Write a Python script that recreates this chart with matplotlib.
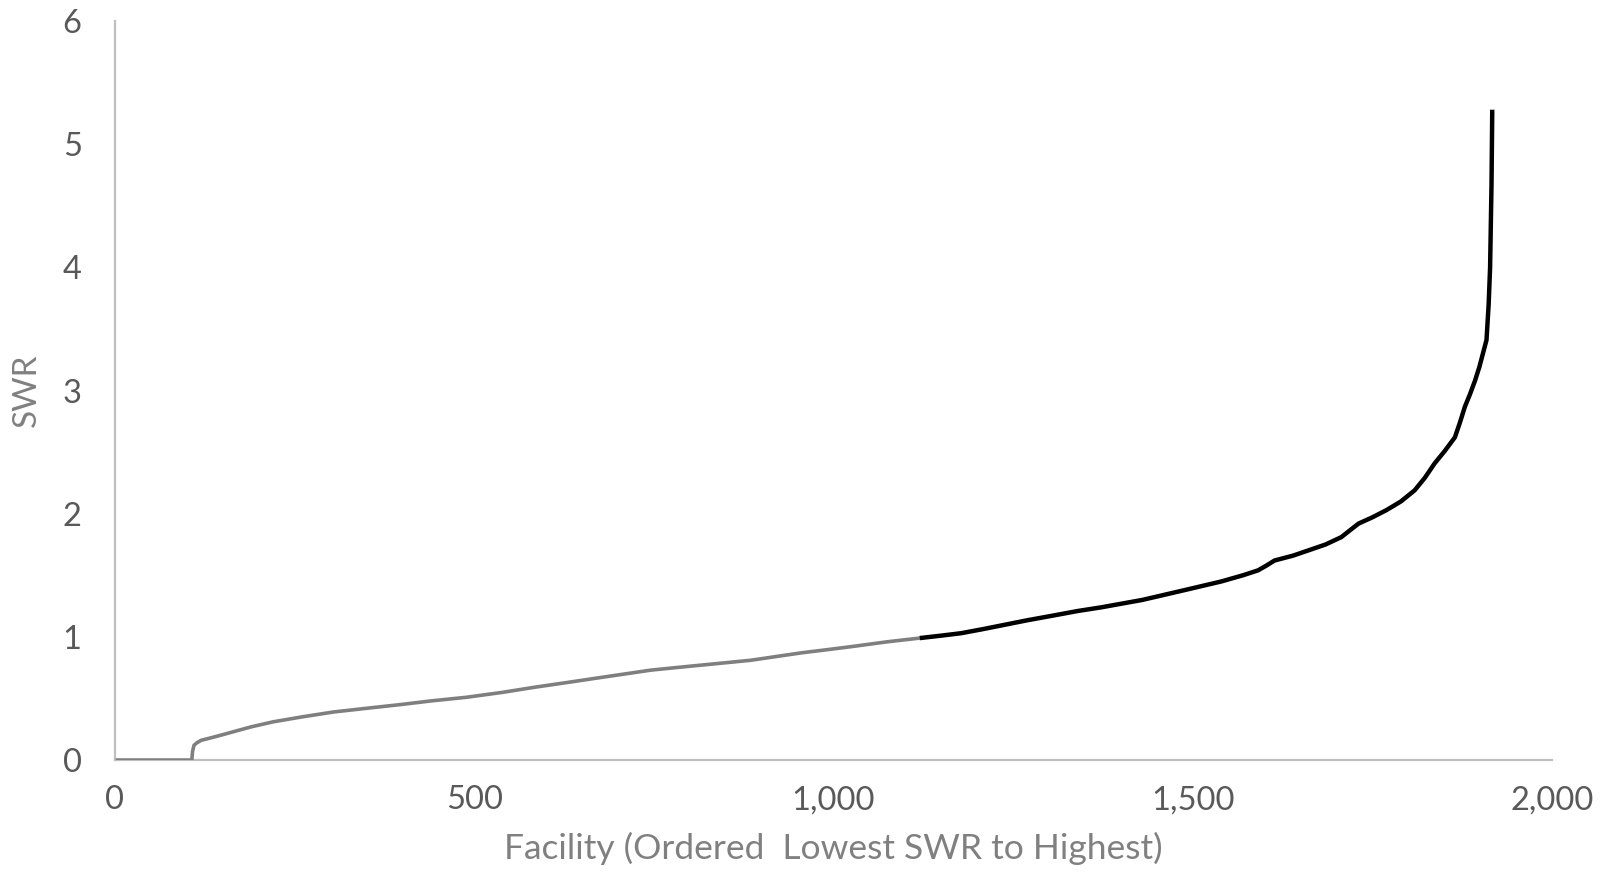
import matplotlib
matplotlib.use("Agg")
import matplotlib.pyplot as plt
from matplotlib.ticker import FuncFormatter

# facilities ranked by SWR; the lower part (SWR < 1) drawn in grey, the rest in black
low_rank = [1, 107, 108, 110, 114, 120, 140, 165, 190, 220, 260, 304, 350, 397,
            440, 490, 540, 583, 630, 676, 711, 746, 780, 815, 850, 885, 920, 955,
            990, 1024, 1075, 1120]
low_swr = [0, 0, 0.07, 0.12, 0.14, 0.16, 0.19, 0.23, 0.27, 0.31, 0.35, 0.39, 0.42, 0.45,
           0.48, 0.51, 0.55, 0.59, 0.63, 0.67, 0.70, 0.73, 0.75, 0.77, 0.79, 0.81, 0.84, 0.87,
           0.895, 0.92, 0.96, 0.99]

high_rank = [1120, 1150, 1178, 1210, 1240, 1270, 1303, 1340, 1373, 1430, 1489, 1540,
             1570, 1591, 1603, 1614, 1640, 1660, 1685, 1707, 1720, 1731, 1750, 1770,
             1790, 1809, 1823, 1837, 1851, 1865, 1872, 1879, 1886, 1893, 1899, 1904,
             1909, 1912, 1914, 1916, 1917]
high_swr = [0.99, 1.01, 1.03, 1.065, 1.10, 1.135, 1.17, 1.21, 1.24, 1.30, 1.38, 1.45,
            1.50, 1.54, 1.58, 1.62, 1.66, 1.70, 1.75, 1.81, 1.87, 1.92, 1.97, 2.03,
            2.10, 2.19, 2.29, 2.41, 2.51, 2.62, 2.74, 2.87, 2.97, 3.08, 3.19, 3.30,
            3.41, 3.70, 4.00, 4.68, 5.28]

x_ticks = [0, 500, 1000, 1500, 2000]
y_ticks = [0, 1, 2, 3, 4, 5, 6]

plt.rcParams["font.family"] = ["Lato", "DejaVu Sans"]

fig = plt.figure(figsize=(16.1, 8.73), dpi=100)
ax = fig.add_axes([0.0714, 0.1294, 0.8925, 0.8465])

ax.plot(low_rank, low_swr, color="#7f7f7f", linewidth=2.6,
        solid_capstyle="butt", solid_joinstyle="round", zorder=3)
ax.plot(high_rank, high_swr, color="#000000", linewidth=3.2,
        solid_capstyle="butt", solid_joinstyle="round", zorder=3)

ax.set_xlim(0, 2000)
ax.set_ylim(0, 6)
ax.set_xticks(x_ticks)
ax.set_yticks(y_ticks)
ax.xaxis.set_major_formatter(FuncFormatter(lambda v, _: f"{int(v):,}"))

for side in ("top", "right"):
    ax.spines[side].set_visible(False)
for side in ("left", "bottom"):
    ax.spines[side].set_color("#bfbfbf")
    ax.spines[side].set_linewidth(1.6)

ax.tick_params(axis="x", length=0, pad=18, labelsize=23.5, labelcolor="#595959")
ax.tick_params(axis="y", length=0, pad=24, labelsize=23.5, labelcolor="#595959")

ax.set_xlabel("Facility (Ordered  Lowest SWR to Highest)", fontsize=25.5, color="#808080")
ax.xaxis.set_label_coords(0.5, -0.097)
ax.set_ylabel("SWR", fontsize=24, color="#808080")
ax.yaxis.set_label_coords(-0.051, 0.5)

fig.savefig("out.png", dpi=100, facecolor="white")
plt.close(fig)
